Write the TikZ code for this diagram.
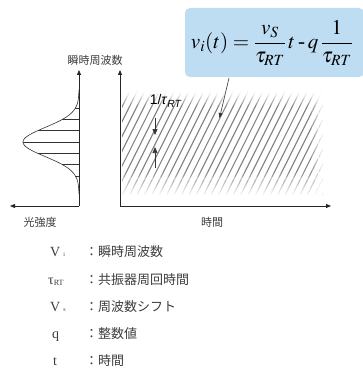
\documentclass[tikz,border=0pt]{standalone}
\usepackage{mathptmx}
\usepackage{fontspec}
\setmainfont{Liberation Serif}
\newfontfamily\jpfont{Noto Sans CJK JP}
\newfontfamily\arialfont{Liberation Sans}
\usetikzlibrary{arrows.meta}
\definecolor{boxblue}{RGB}{190,221,243}
\definecolor{txtgray}{RGB}{60,60,60}
\begin{document}
\begin{tikzpicture}[x=1pt,y=-1pt,
  axisline/.style={line width=0.8pt,draw=black!85,-{Triangle[length=5pt,width=4pt]}},
  hatchline/.style={draw=black!50,line width=1.1pt},
  gline/.style={draw=black!80,line width=0.6pt},
  jplabel/.style={font=\jpfont\fontsize{11}{12}\selectfont,text=txtgray,inner sep=0pt},
  legjp/.style={font=\jpfont\fontsize{13}{14}\selectfont,text=txtgray,inner sep=0pt,anchor=west},
  legsym/.style={font=\fontsize{14}{16}\selectfont,text=txtgray,inner sep=0pt},
  smallarrow/.style={line width=0.6pt,draw=black!80,-{Triangle[length=6pt,width=5pt]}}
]
\useasboundingbox (0,0) rectangle (362,385);

% hatch region
\begin{scope}
  \clip (122,92) rectangle (322,196);
  \foreach \i in {0,...,36} {
    \draw[hatchline] (70+\i*7.4,196) -- ++(52,-104);
  }
  % fades
  \foreach \k in {0,...,11} {
    \fill[white,opacity={1-\k/12}] (121,92+\k*1.2) rectangle (323,93.3+\k*1.2);
  }
  \foreach \k in {0,...,24} {
    \fill[white,opacity={\k/25}] (121,170+\k*1.05) rectangle (323,171.2+\k*1.05);
  }
  \fill[white] (121,194.5) rectangle (323,197);
  \foreach \k in {0,...,9} {
    \fill[white,opacity={\k/10}] (310+\k*1.2,91) rectangle (311.3+\k*1.2,197);
  }
\end{scope}

% axes
\coordinate (lo) at (79,206);
\coordinate (ltop) at (79,70);
\coordinate (lleft) at (10,206);
\coordinate (ro) at (120,206);
\coordinate (rtop) at (120,70);
\coordinate (rright) at (331,206);
\draw[axisline] (lo) -- (ltop);
\draw[axisline] (lo) -- (lleft);
\draw[axisline] (ro) -- (rtop);
\draw[axisline] (ro) -- (rright);

% gaussian
\draw[gline] plot[domain=90:194,samples=80,smooth] ({79-56*exp(-((\x-142)^2)/(2*14.5^2))},\x);
\foreach \yy in {108.1,119.4,130.7,142,153.3,164.6,175.9} {
  \draw[gline] ({79-56*exp(-((\yy-142)^2)/(2*14.5^2))},\yy) -- (79,\yy);
}

% labels
\node[jplabel] (lfreq) at (95,60) {瞬時周波数};
\node[jplabel] (lint) at (40,222) {光強度};
\node[jplabel] (ltime) at (212,222) {時間};

% 1/tau label and arrows
\node[font=\arialfont\fontsize{14}{16}\selectfont,inner sep=0pt] (tlab) at (166,101) {1/\textit{τ}\textsubscript{\textit{RT}}};
\coordinate (a1s) at (155,118);
\coordinate (a1e) at (155,135);
\coordinate (a2s) at (155,168);
\coordinate (a2e) at (155,147);
\draw[smallarrow] (a1s) -- (a1e);
\draw[smallarrow] (a2s) -- (a2e);

% formula box
\fill[boxblue,rounded corners=5pt] (185,8) rectangle (364,77);
\node[inner sep=0pt,font=\fontsize{21}{26}\selectfont] (formula) at (272,43)
  {$\displaystyle v_i(t) = \frac{v_S}{\tau_{RT}}\,t \mathbin{\textnormal{-}} q\,\frac{1}{\tau_{RT}}$};
\coordinate (pstart) at (229,78);
\coordinate (pend) at (219.5,118);
\draw[line width=0.6pt,draw=black!80,-{Triangle[length=5pt,width=4pt]}] (pstart) -- (pend);

% legend
\node[legsym,anchor=base west] (s1) at (50,256) {V\raisebox{0pt}{\fontsize{6}{7}\selectfont\ \ i}};
\node[legsym,anchor=base west] (s2) at (48,284) {τ\raisebox{-1pt}{\fontsize{8}{9}\selectfont RT}};
\node[legsym,anchor=base west] (s3) at (50,311) {V\raisebox{0pt}{\fontsize{6}{7}\selectfont\ \ s}};
\node[legsym,anchor=base west] (s4) at (52,338) {q};
\node[legsym,anchor=base west] (s5) at (53,365) {t};
\node[legjp] (j1) at (85,252) {：瞬時周波数};
\node[legjp] (j2) at (85,280) {：共振器周回時間};
\node[legjp] (j3) at (85,307) {：周波数シフト};
\node[legjp] (j4) at (85,334) {：整数値};
\node[legjp] (j5) at (85,361) {：時間};
\end{tikzpicture}
\end{document}
